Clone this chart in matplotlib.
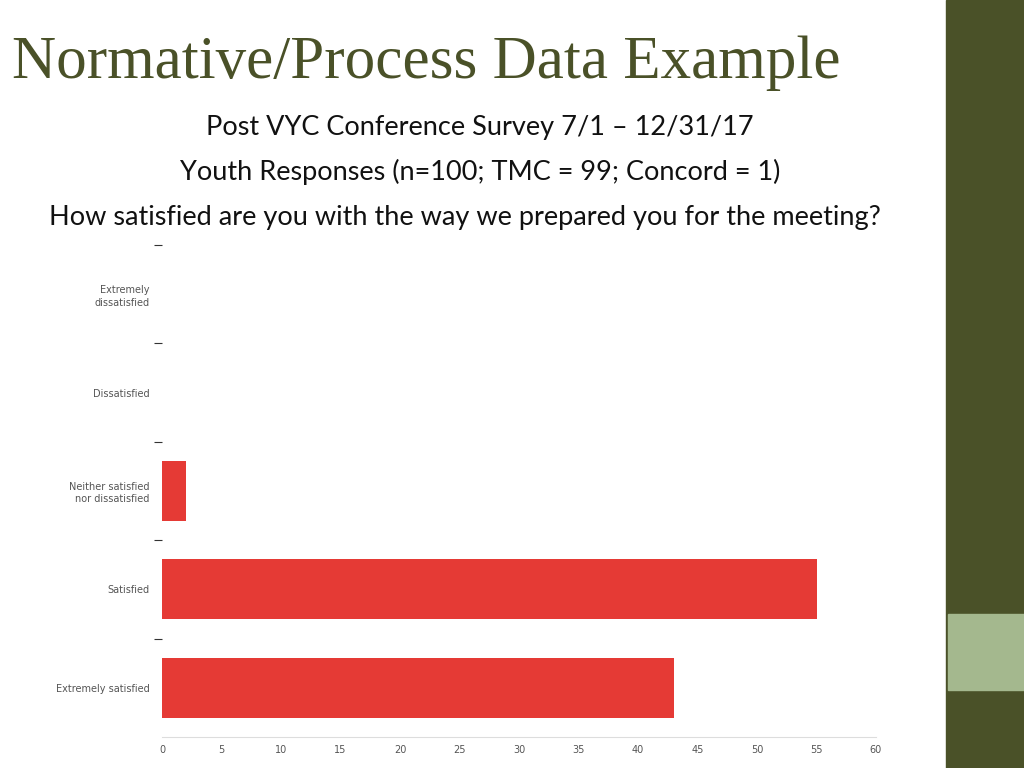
import matplotlib
matplotlib.use("Agg")
import matplotlib.pyplot as plt
from matplotlib.patches import Rectangle
import numpy as np

categories = ["Extremely\ndissatisfied", "Dissatisfied", "Neither satisfied\nnor dissatisfied",
              "Satisfied", "Extremely satisfied"]
counts = [0, 0, 2, 55, 43]
xticks = list(range(0, 61, 5))

fig = plt.figure(figsize=(10.24, 7.68), dpi=100)
fig.patch.set_facecolor("white")

# right decorative band
fig.patches.append(Rectangle((946 / 1024, 0), 78 / 1024, 1, transform=fig.transFigure,
                             color="#4a5128", zorder=0))
fig.patches.append(Rectangle((948 / 1024, 1 - 690 / 768), 76 / 1024, 76 / 768,
                             transform=fig.transFigure, color="#a4b88e", zorder=1))

fig.text(12 / 1024, 1 - 63 / 768, "Normative/Process Data Example", fontsize=44,
         family="Liberation Serif", color="#4a5128", va="center", ha="left")
sans = ["Lato", "DejaVu Sans"]
fig.text(480 / 1024, 1 - 128 / 768, "Post VYC Conference Survey 7/1 \u2013 12/31/17",
         fontsize=19.5, family=sans, ha="center", va="center", color="#111")
fig.text(480 / 1024, 1 - 172 / 768, "Youth Responses (n=100; TMC = 99; Concord = 1)",
         fontsize=19.5, family=sans, ha="center", va="center", color="#111")
fig.text(465 / 1024, 1 - 217 / 768,
         "How satisfied are you with the way we prepared you for the meeting?",
         fontsize=19.5, family=sans, ha="center", va="center", color="#111")

ax = fig.add_axes([162 / 1024, 1 - 737 / 768, 714 / 1024, 492 / 768])
y = np.arange(len(categories))
ax.barh(y, counts, height=0.61, color="#e53a35")
ax.set_ylim(len(categories) - 0.5, -0.5)
ax.set_xlim(0, 60)
ax.set_xticks(xticks)
ax.set_xticklabels([str(t) for t in xticks], fontsize=7, color="#555")
ax.set_yticks(y)
ax.set_yticklabels(categories, fontsize=7, color="#555", linespacing=1.3)
ax.set_yticks(np.arange(-0.5, len(categories) - 1, 1), minor=True)
ax.tick_params(axis="y", which="major", length=0, pad=9)
ax.tick_params(axis="y", which="minor", length=6, color="#333", width=0.8)
ax.tick_params(axis="x", length=0, pad=6)
for lab in ax.get_yticklabels():
    lab.set_ha("right")
for s in ["top", "right", "left"]:
    ax.spines[s].set_visible(False)
ax.spines["bottom"].set_color("#ddd")
ax.grid(False)

fig.savefig("out.png", dpi=100)
